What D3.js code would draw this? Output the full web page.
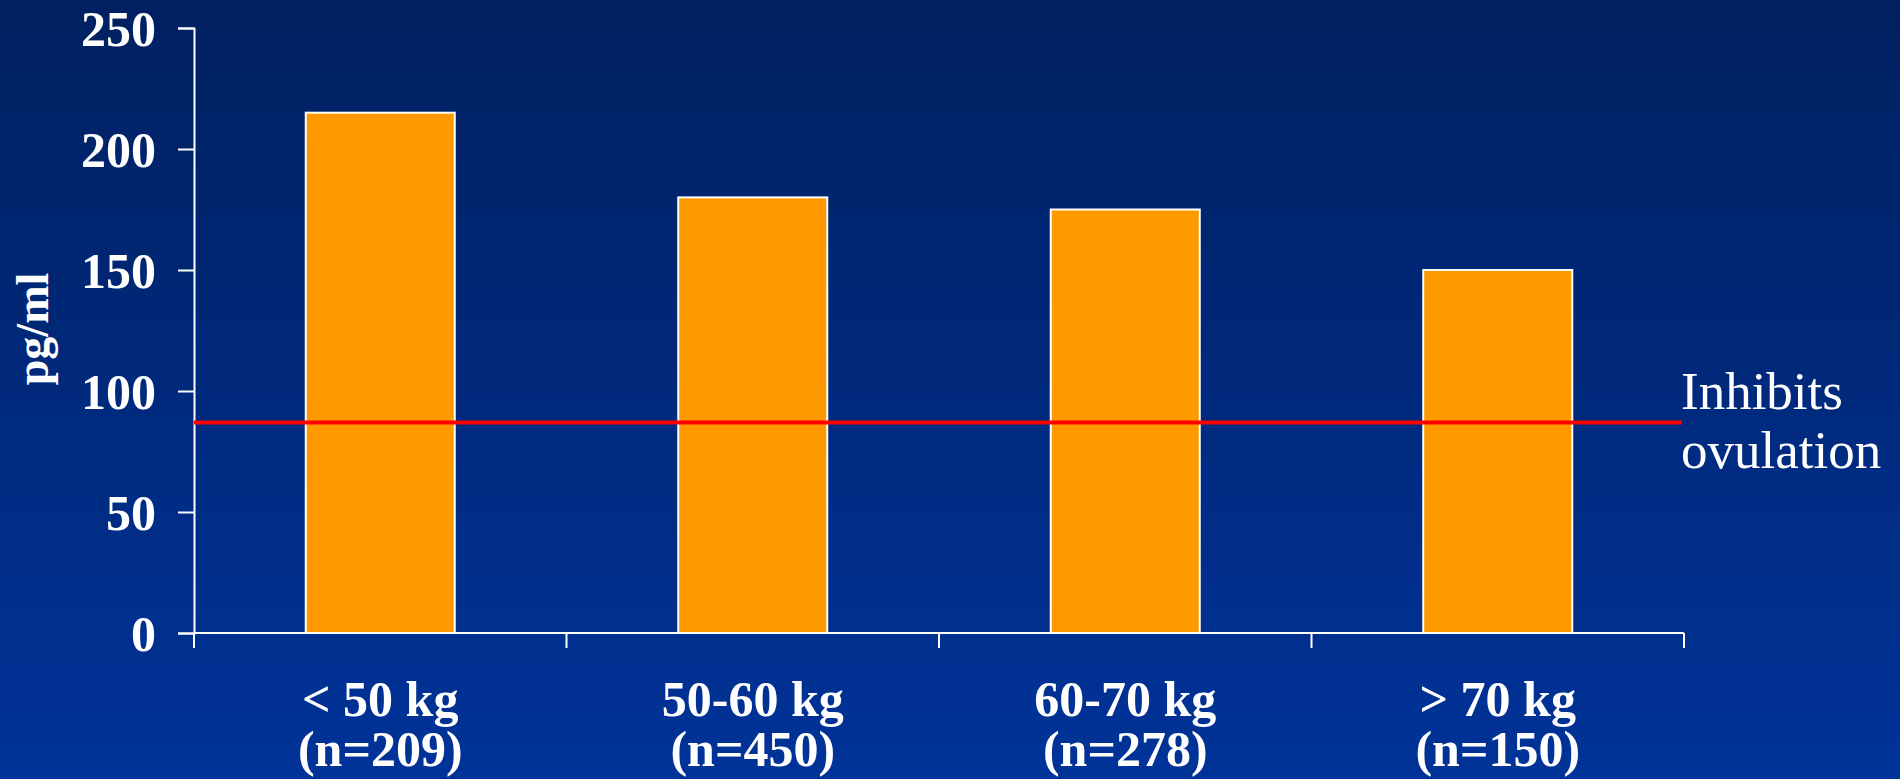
<!DOCTYPE html>
<html>
<head>
<meta charset="utf-8">
<script src="https://cdn.jsdelivr.net/npm/d3@7/dist/d3.min.js"></script>
<style>
  html, body { margin: 0; padding: 0; overflow: hidden; }
  svg { display: block; }
</style>
</head>
<body>
<svg id="chart" width="1900" height="779"></svg>
<script>
// Weight groups and their mean level (pg/ml)
const categories = ["< 50 kg", "50-60 kg", "60-70 kg", "> 70 kg"];
const sampleSizes = ["(n=209)", "(n=450)", "(n=278)", "(n=150)"];
const values = [215, 180, 175, 150];
const yTicks = [0, 50, 100, 150, 200, 250];
const threshold = 87;
const thresholdLabel = ["Inhibits", "ovulation"];
const yLabel = "pg/ml";

const W = 1900, H = 779;
const margin = { left: 194, right: 216, top: 28, bottom: 146 };
const svg = d3.select("#chart");

// Background gradient, dark navy at top to brighter blue at bottom
const defs = svg.append("defs");
const grad = defs.append("linearGradient")
  .attr("id", "bg").attr("x1", 0).attr("y1", 0).attr("x2", 0).attr("y2", 1);
grad.append("stop").attr("offset", "0%").attr("stop-color", "#002060");
grad.append("stop").attr("offset", "100%").attr("stop-color", "#003399");
svg.append("rect").attr("width", W).attr("height", H).attr("fill", "url(#bg)");

const x = d3.scaleBand()
  .domain(categories)
  .range([margin.left, W - margin.right])
  .paddingInner(0.6)
  .paddingOuter(0.3);

const y = d3.scaleLinear()
  .domain([0, 250])
  .range([H - margin.bottom, margin.top]);

const serif = "'Liberation Serif', 'Times New Roman', serif";

// Bars
svg.append("g").selectAll("rect")
  .data(values)
  .join("rect")
  .attr("x", (d, i) => x(categories[i]))
  .attr("width", x.bandwidth())
  .attr("y", d => y(d))
  .attr("height", d => y(0) - y(d))
  .attr("fill", "#FF9900")
  .attr("stroke", "#ffffff")
  .attr("stroke-width", 2);

// Y axis
const yAxis = svg.append("g")
  .attr("transform", `translate(${margin.left},0)`)
  .call(d3.axisLeft(y).tickValues(yTicks).tickSize(16).tickPadding(22).tickFormat(d3.format("d")));
yAxis.select(".domain").attr("stroke", "#fff").attr("stroke-width", 2);
yAxis.selectAll(".tick line").attr("stroke", "#fff").attr("stroke-width", 2);
yAxis.selectAll(".tick text")
  .attr("fill", "#fff")
  .attr("font-family", serif)
  .attr("font-weight", "bold")
  .attr("font-size", 50)
  .attr("dy", "0.34em");

// X axis: line along zero with ticks at band boundaries
const x0 = margin.left, x1 = W - margin.right;
const edgeScale = d3.scaleLinear().domain([0, categories.length]).range([x0, x1]);
const xAxisG = svg.append("g");
xAxisG.append("line")
  .attr("x1", x0).attr("x2", x1)
  .attr("y1", y(0)).attr("y2", y(0))
  .attr("stroke", "#fff").attr("stroke-width", 2);
xAxisG.selectAll("line.tick")
  .data(d3.range(categories.length + 1))
  .join("line")
  .attr("class", "tick")
  .attr("x1", d => edgeScale(d)).attr("x2", d => edgeScale(d))
  .attr("y1", y(0)).attr("y2", y(0) + 15)
  .attr("stroke", "#fff").attr("stroke-width", 2);

// Category labels, two lines each
const labels = svg.append("g")
  .attr("font-family", serif)
  .attr("font-weight", "bold")
  .attr("font-size", 50)
  .attr("fill", "#fff")
  .attr("text-anchor", "middle")
  .selectAll("text")
  .data(categories)
  .join("text")
  .attr("y", 716);
labels.append("tspan")
  .attr("x", d => x(d) + x.bandwidth() / 2)
  .text(d => d);
labels.append("tspan")
  .attr("x", d => x(d) + x.bandwidth() / 2)
  .attr("dy", 50)
  .text((d, i) => sampleSizes[i]);

// Threshold line
svg.append("line")
  .attr("x1", x0).attr("x2", x1 - 2)
  .attr("y1", y(threshold)).attr("y2", y(threshold))
  .attr("stroke", "#FF0000").attr("stroke-width", 4);

const tl = svg.append("text")
  .attr("font-family", serif)
  .attr("font-size", 53)
  .attr("fill", "#fff")
  .attr("y", 409);
tl.selectAll("tspan")
  .data(thresholdLabel)
  .join("tspan")
  .attr("x", 1681)
  .attr("dy", (d, i) => i === 0 ? 0 : 59)
  .text(d => d);

// Y axis title
svg.append("text")
  .attr("transform", `translate(48,329) rotate(-90)`)
  .attr("text-anchor", "middle")
  .attr("font-family", serif)
  .attr("font-weight", "bold")
  .attr("font-size", 46)
  .attr("fill", "#fff")
  .text(yLabel);
</script>
</body>
</html>
